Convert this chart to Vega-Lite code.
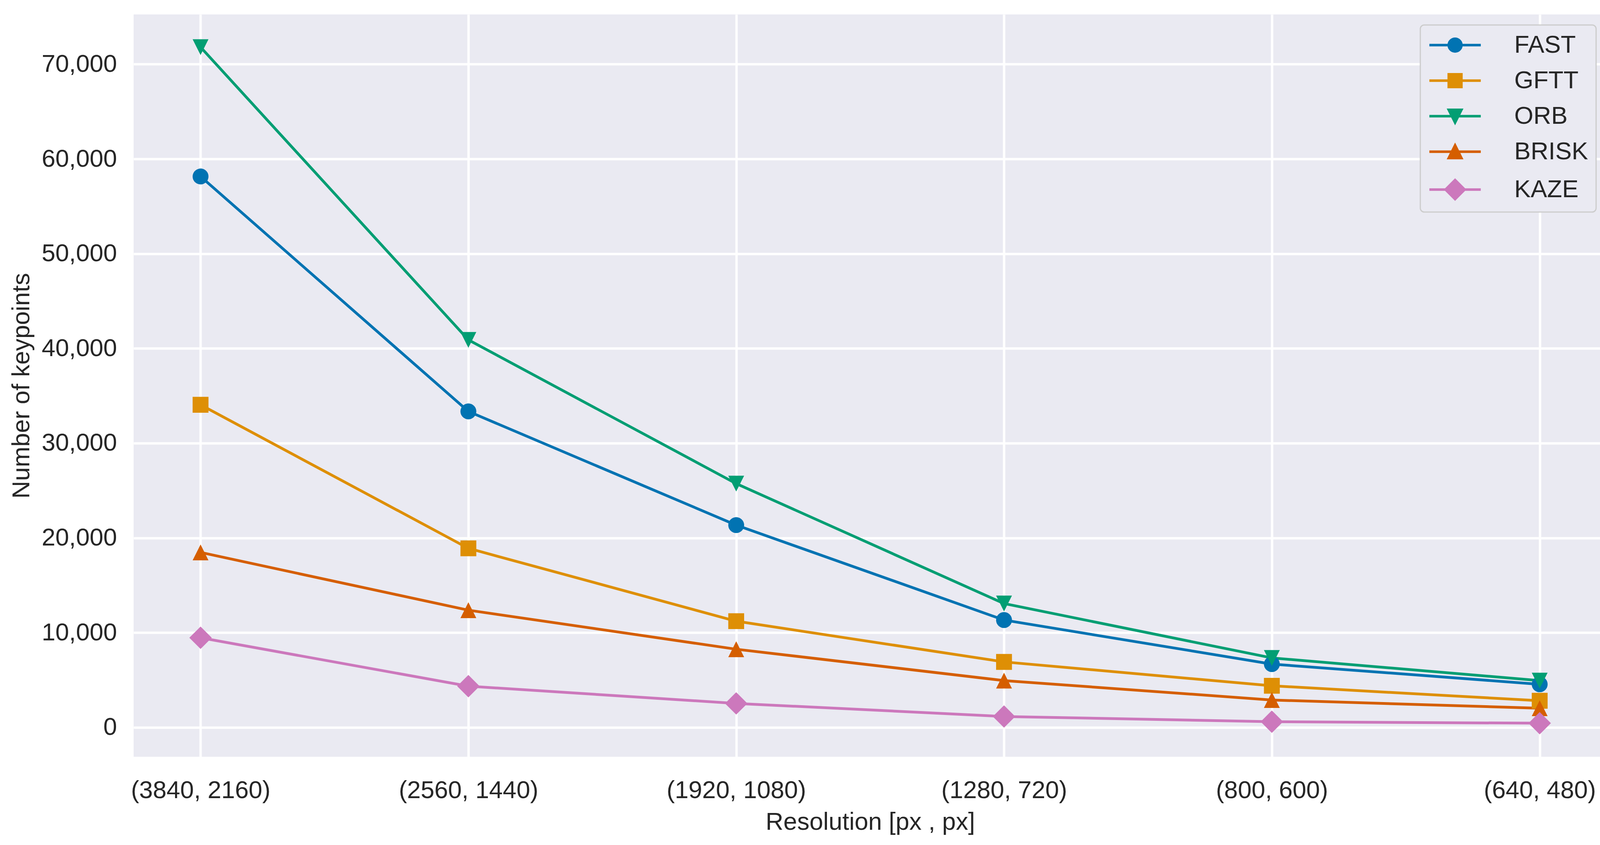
{
  "$schema": "https://vega.github.io/schema/vega-lite/v6.json",
  "width": 3771,
  "height": 1901,
  "autosize": {"type": "none"},
  "padding": {"left": 342, "top": 37, "right": 22, "bottom": 226},
  "background": "white",
  "config": {
    "view": {"fill": "#EAEAF2", "stroke": null},
    "font": "Liberation Sans",
    "axis": {
      "domain": false,
      "ticks": false,
      "grid": true,
      "gridColor": "#FFFFFF",
      "gridWidth": 6,
      "labelFont": "Liberation Sans",
      "titleFont": "Liberation Sans",
      "labelFontSize": 63,
      "titleFontSize": 63,
      "labelColor": "#262626",
      "titleColor": "#262626",
      "titleFontWeight": "normal",
      "labelLimit": 0
    },
    "legend": {
      "orient": "top-right",
      "offset": 27,
      "padding": 20,
      "fillColor": "#EAEAF2",
      "strokeColor": "#CCCCCC",
      "strokeWidth": 3,
      "cornerRadius": 10,
      "labelFont": "Liberation Sans",
      "labelFontSize": 63,
      "labelColor": "#262626",
      "labelLimit": 0,
      "symbolSize": 3136,
      "symbolOffset": 37.5,
      "labelOffset": 120,
      "rowPadding": 27
    }
  },
  "data": {
    "values": [
      {"detector": "FAST", "resolution": "(3840, 2160)", "keypoints": 58150},
      {"detector": "FAST", "resolution": "(2560, 1440)", "keypoints": 33350},
      {"detector": "FAST", "resolution": "(1920, 1080)", "keypoints": 21350},
      {"detector": "FAST", "resolution": "(1280, 720)", "keypoints": 11330},
      {"detector": "FAST", "resolution": "(800, 600)", "keypoints": 6680},
      {"detector": "FAST", "resolution": "(640, 480)", "keypoints": 4550},
      {"detector": "GFTT", "resolution": "(3840, 2160)", "keypoints": 34050},
      {"detector": "GFTT", "resolution": "(2560, 1440)", "keypoints": 18900},
      {"detector": "GFTT", "resolution": "(1920, 1080)", "keypoints": 11210},
      {"detector": "GFTT", "resolution": "(1280, 720)", "keypoints": 6910},
      {"detector": "GFTT", "resolution": "(800, 600)", "keypoints": 4390},
      {"detector": "GFTT", "resolution": "(640, 480)", "keypoints": 2810},
      {"detector": "ORB", "resolution": "(3840, 2160)", "keypoints": 71800},
      {"detector": "ORB", "resolution": "(2560, 1440)", "keypoints": 40900},
      {"detector": "ORB", "resolution": "(1920, 1080)", "keypoints": 25730},
      {"detector": "ORB", "resolution": "(1280, 720)", "keypoints": 13070},
      {"detector": "ORB", "resolution": "(800, 600)", "keypoints": 7330},
      {"detector": "ORB", "resolution": "(640, 480)", "keypoints": 4940},
      {"detector": "BRISK", "resolution": "(3840, 2160)", "keypoints": 18470},
      {"detector": "BRISK", "resolution": "(2560, 1440)", "keypoints": 12370},
      {"detector": "BRISK", "resolution": "(1920, 1080)", "keypoints": 8250},
      {"detector": "BRISK", "resolution": "(1280, 720)", "keypoints": 4940},
      {"detector": "BRISK", "resolution": "(800, 600)", "keypoints": 2890},
      {"detector": "BRISK", "resolution": "(640, 480)", "keypoints": 2020},
      {"detector": "KAZE", "resolution": "(3840, 2160)", "keypoints": 9460},
      {"detector": "KAZE", "resolution": "(2560, 1440)", "keypoints": 4350},
      {"detector": "KAZE", "resolution": "(1920, 1080)", "keypoints": 2530},
      {"detector": "KAZE", "resolution": "(1280, 720)", "keypoints": 1150},
      {"detector": "KAZE", "resolution": "(800, 600)", "keypoints": 600},
      {"detector": "KAZE", "resolution": "(640, 480)", "keypoints": 440}
    ]
  },
  "encoding": {
    "x": {
      "field": "resolution",
      "type": "ordinal",
      "scale": {
        "type": "point",
        "padding": 0.25,
        "domain": ["(3840, 2160)", "(2560, 1440)", "(1920, 1080)", "(1280, 720)", "(800, 600)", "(640, 480)"]
      },
      "axis": {"title": "Resolution [px , px]", "labelAngle": 0, "labelPadding": 55, "titlePadding": 18}
    },
    "y": {
      "field": "keypoints",
      "type": "quantitative",
      "scale": {"domain": [-3100, 75250], "nice": false, "zero": false},
      "axis": {
        "title": "Number of keypoints",
        "values": [0, 10000, 20000, 30000, 40000, 50000, 60000, 70000],
        "format": ",.0f",
        "labelExpr": "datum.value === 0 ? '0\u00a0' : datum.label",
        "labelPadding": 43,
        "titlePadding": 55
      }
    }
  },
  "layer": [
    {
      "mark": {"type": "line", "strokeWidth": 7, "strokeJoin": "round"},
      "encoding": {
        "stroke": {
          "field": "detector",
          "type": "nominal",
          "scale": {
            "domain": ["KAZE", "BRISK", "ORB", "GFTT", "FAST"],
            "range": ["#CC78BC", "#D55E00", "#029E73", "#DE8F05", "#0173B2"]
          },
          "legend": null
        }
      }
    },
    {
      "mark": {"type": "point", "filled": true, "size": 3364, "opacity": 1},
      "encoding": {
        "color": {
          "field": "detector",
          "type": "nominal",
          "scale": {
            "domain": ["FAST", "GFTT", "ORB", "BRISK", "KAZE"],
            "range": ["#0173B2", "#DE8F05", "#029E73", "#D55E00", "#CC78BC"]
          },
          "legend": {
            "title": null,
            "symbolType": {"expr": "datum.value === 'FAST' ? 'M-2.35,0H2.35M0.58,0A0.58,0.58,0,1,1,-0.58,0A0.58,0.58,0,1,1,0.58,0Z' : datum.value === 'GFTT' ? 'M-2.35,0H2.35M-0.58,-0.58H0.58V0.58H-0.58Z' : datum.value === 'ORB' ? 'M-2.35,0H2.35M-0.58,-0.58H0.58L0,0.58Z' : datum.value === 'BRISK' ? 'M-2.35,0H2.35M0,-0.58L0.58,0.58H-0.58Z' : 'M-2.35,0H2.35M0,-0.87L0.87,0L0,0.87L-0.87,0Z'"},
            "symbolStrokeColor": {"expr": "scale('color', datum.value)"},
            "symbolStrokeWidth": 6.5
          }
        },
        "shape": {
          "field": "detector",
          "type": "nominal",
          "scale": {
            "domain": ["KAZE", "BRISK", "ORB", "GFTT", "FAST"],
            "range": [
              "M0,-0.99L0.99,0L0,0.99L-0.99,0Z",
              "M0,-0.7L0.7,0.7H-0.7Z",
              "M-0.7,-0.7H0.7L0,0.7Z",
              "M-0.7,-0.7H0.7V0.7H-0.7Z",
              "M0.7,0A0.7,0.7,0,1,1,-0.7,0A0.7,0.7,0,1,1,0.7,0Z"
            ]
          },
          "legend": null
        }
      }
    }
  ]
}
